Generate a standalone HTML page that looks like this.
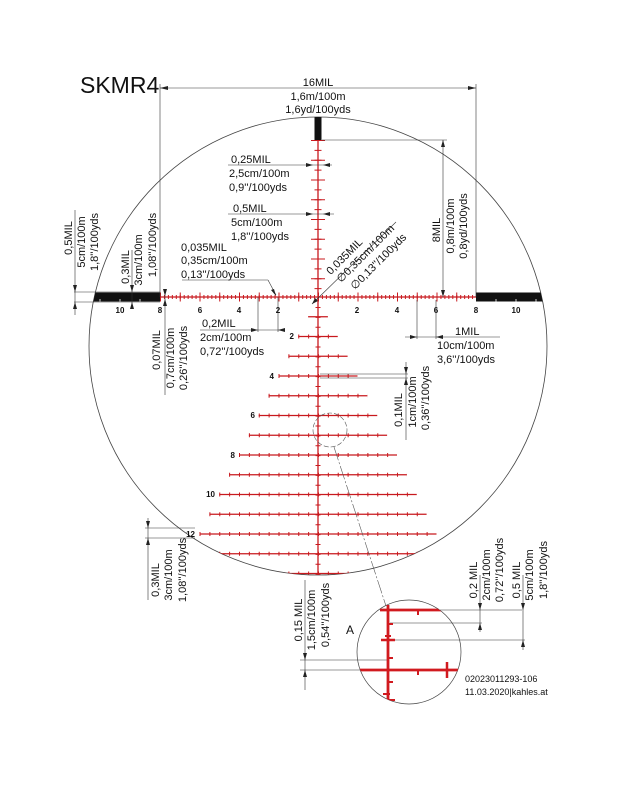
<!DOCTYPE html>
<html><head><meta charset="utf-8"><style>
html,body{margin:0;padding:0;background:#fff;}
svg{display:block;}
text{font-family:"Liberation Sans",sans-serif;fill:#111;font-size:11px;}
.n{font-size:8px;font-weight:bold;}
</style></head><body>
<svg width="643" height="794" viewBox="0 0 643 794" xmlns="http://www.w3.org/2000/svg">
<defs>
<clipPath id="cc"><circle cx="318" cy="346" r="229"/></clipPath>
<clipPath id="ca"><circle cx="409" cy="652" r="52"/></clipPath>
</defs>
<rect width="643" height="794" fill="#fff"/>
<circle cx="318" cy="346" r="229" fill="none" stroke="#444" stroke-width="0.8"/>

<g clip-path="url(#cc)">
<rect x="80" y="292.5" width="80" height="9" fill="#111"/>
<rect x="476" y="292.5" width="90" height="9" fill="#111"/>
<rect x="314.5" y="110" width="7" height="30" fill="#111"/>
<line x1="160" y1="297" x2="476" y2="297" stroke="#c8191e" stroke-width="1.3"/>
<line x1="160" y1="297" x2="476" y2="297" stroke="#c8191e" stroke-width="4" stroke-dasharray="1 2.95"/>
<line x1="160" y1="297" x2="476" y2="297" stroke="#c8191e" stroke-width="9" stroke-dasharray="1 18.75"/>
<line x1="318" y1="140" x2="318" y2="580" stroke="#c8191e" stroke-width="1.3"/>
<line x1="318" y1="140" x2="318" y2="297" stroke="#c8191e" stroke-width="7" stroke-dasharray="1 8.875"/>
<line x1="318" y1="140" x2="318" y2="297" stroke="#c8191e" stroke-width="14" stroke-dasharray="1 18.75"/>
<line x1="318" y1="307" x2="318" y2="580" stroke="#c8191e" stroke-width="5" stroke-dasharray="1 8.875"/>
<g stroke="#c8191e">
<line x1="308.1" y1="316.75" x2="327.9" y2="316.75" stroke-width="1.3"/>
<line x1="298.25" y1="336.5" x2="337.75" y2="336.5" stroke-width="1.3"/>
<line x1="288.4" y1="356.25" x2="347.6" y2="356.25" stroke-width="1.3"/>
<line x1="278.5" y1="376" x2="357.5" y2="376" stroke-width="1.3"/>
<line x1="268.6" y1="395.75" x2="367.4" y2="395.75" stroke-width="1.3"/>
<line x1="258.75" y1="415.5" x2="377.25" y2="415.5" stroke-width="1.3"/>
<line x1="248.9" y1="435.25" x2="387.1" y2="435.25" stroke-width="1.3"/>
<line x1="239" y1="455" x2="397" y2="455" stroke-width="1.3"/>
<line x1="229.1" y1="474.75" x2="406.9" y2="474.75" stroke-width="1.3"/>
<line x1="219.25" y1="494.5" x2="416.75" y2="494.5" stroke-width="1.3"/>
<line x1="209.4" y1="514.25" x2="426.6" y2="514.25" stroke-width="1.3"/>
<line x1="199.5" y1="534" x2="436.5" y2="534" stroke-width="1.3"/>
<line x1="189.6" y1="553.75" x2="446.4" y2="553.75" stroke-width="1.3"/>
<line x1="179.75" y1="573.5" x2="456.25" y2="573.5" stroke-width="1.3"/>
</g>
<g stroke="#c8191e" stroke-width="4" stroke-dasharray="1 8.875">
<line x1="298.25" y1="336.5" x2="337.75" y2="336.5"/>
<line x1="288.4" y1="356.25" x2="347.6" y2="356.25"/>
<line x1="278.5" y1="376" x2="357.5" y2="376"/>
<line x1="268.6" y1="395.75" x2="367.4" y2="395.75"/>
<line x1="258.75" y1="415.5" x2="377.25" y2="415.5"/>
<line x1="248.9" y1="435.25" x2="387.1" y2="435.25"/>
<line x1="239" y1="455" x2="397" y2="455"/>
<line x1="229.1" y1="474.75" x2="406.9" y2="474.75"/>
<line x1="219.25" y1="494.5" x2="416.75" y2="494.5"/>
<line x1="209.4" y1="514.25" x2="426.6" y2="514.25"/>
<line x1="199.5" y1="534" x2="436.5" y2="534"/>
<line x1="189.6" y1="553.75" x2="446.4" y2="553.75"/>
<line x1="179.75" y1="573.5" x2="456.25" y2="573.5"/>
</g>
</g>
<g stroke="#fff" stroke-width="0.8">
<line x1="100" y1="299" x2="100" y2="302"/><line x1="120" y1="299" x2="120" y2="302"/><line x1="140" y1="299" x2="140" y2="302"/>
<line x1="496" y1="299" x2="496" y2="302"/><line x1="516" y1="299" x2="516" y2="302"/><line x1="536" y1="299" x2="536" y2="302"/>
</g>

<text class="n" x="294" y="339" text-anchor="end">2</text>
<text class="n" x="274" y="379" text-anchor="end">4</text>
<text class="n" x="255" y="418" text-anchor="end">6</text>
<text class="n" x="235" y="458" text-anchor="end">8</text>
<text class="n" x="215" y="497" text-anchor="end">10</text>
<text class="n" x="195" y="537" text-anchor="end">12</text>
<text class="n" x="120" y="313" text-anchor="middle">10</text>
<text class="n" x="160" y="313" text-anchor="middle">8</text>
<text class="n" x="200" y="313" text-anchor="middle">6</text>
<text class="n" x="239" y="313" text-anchor="middle">4</text>
<text class="n" x="278" y="313" text-anchor="middle">2</text>
<text class="n" x="357" y="313" text-anchor="middle">2</text>
<text class="n" x="397" y="313" text-anchor="middle">4</text>
<text class="n" x="436" y="313" text-anchor="middle">6</text>
<text class="n" x="476" y="313" text-anchor="middle">8</text>
<text class="n" x="516" y="313" text-anchor="middle">10</text>

<g stroke="#333" stroke-width="0.6" fill="none">
<line x1="160" y1="88" x2="476" y2="88"/>
<line x1="160" y1="84" x2="160" y2="297"/>
<line x1="476" y1="84" x2="476" y2="297"/>
<line x1="322" y1="140" x2="447" y2="140"/>
<line x1="443" y1="140" x2="443" y2="297"/>
<line x1="228" y1="165" x2="332" y2="165"/>
<line x1="228" y1="214" x2="334" y2="214"/>
<line x1="182" y1="280" x2="268" y2="280"/><line x1="268" y1="280" x2="276" y2="295"/>
<line x1="312" y1="304" x2="396" y2="222"/>
<line x1="74" y1="292" x2="160" y2="292"/><line x1="74" y1="302" x2="160" y2="302"/>
<line x1="75" y1="210" x2="75" y2="315"/>
<line x1="132" y1="250" x2="132" y2="306"/>
<line x1="165" y1="290" x2="165" y2="395"/>
<line x1="200" y1="330" x2="282" y2="330"/>
<line x1="258" y1="297" x2="258" y2="332"/><line x1="278" y1="297" x2="278" y2="332"/>
<line x1="405" y1="337" x2="500" y2="337"/>
<line x1="417" y1="300" x2="417" y2="339"/><line x1="436" y1="300" x2="436" y2="339"/>
<line x1="320" y1="374" x2="408" y2="374"/><line x1="320" y1="378" x2="408" y2="378"/>
<line x1="406" y1="362" x2="406" y2="440"/>
<line x1="145" y1="528" x2="195" y2="528"/><line x1="145" y1="538" x2="195" y2="538"/>
<line x1="148" y1="518" x2="148" y2="600"/>
<line x1="300" y1="660" x2="388" y2="660"/><line x1="300" y1="670" x2="400" y2="670"/>
<line x1="305" y1="580" x2="305" y2="690"/>
<line x1="440" y1="610" x2="522" y2="610"/><line x1="390" y1="623" x2="482" y2="623"/><line x1="395" y1="640" x2="525" y2="640"/>
<line x1="480" y1="575" x2="480" y2="632"/><line x1="523" y1="575" x2="523" y2="650"/>
</g>
<g fill="#222">
<polygon points="160,88 168,86 168,90"/><polygon points="476,88 468,86 468,90"/>
<polygon points="443,140 441,147 445,147"/><polygon points="443,297 441,290 445,290"/>
<polygon points="313,165 306,163 306,167"/><polygon points="323,165 330,163 330,167"/>
<polygon points="313,214 306,212 306,216"/><polygon points="323,214 330,212 330,216"/>
<polygon points="276,296 271,290 274,289"/>
<polygon points="312,304 315,298 318,301"/>
<polygon points="75,292 73,285 77,285"/><polygon points="75,302 73,309 77,309"/>
<polygon points="132,292 130,285 134,285"/><polygon points="132,302 130,309 134,309"/>
<polygon points="165,296 163,289 167,289"/><polygon points="165,299 163,306 167,306"/>
<polygon points="258,330 251,328 251,332"/><polygon points="278,330 285,328 285,332"/>
<polygon points="417,337 410,335 410,339"/><polygon points="436,337 443,335 443,339"/>
<polygon points="406,374 404,367 408,367"/><polygon points="406,378 404,385 408,385"/>
<polygon points="148,528 146,521 150,521"/><polygon points="148,538 146,545 150,545"/>
<polygon points="305,660 303,653 307,653"/><polygon points="305,670 303,677 307,677"/>
<polygon points="480,610 478,603 482,603"/><polygon points="480,623 478,630 482,630"/>
<polygon points="523,610 521,603 525,603"/><polygon points="523,640 521,647 525,647"/>
</g>

<circle cx="330" cy="430" r="17" fill="none" stroke="#555" stroke-width="0.6" stroke-dasharray="5 2"/>
<line x1="334" y1="447" x2="386" y2="606" stroke="#555" stroke-width="0.6" stroke-dasharray="14 2 2 2"/>
<circle cx="409" cy="652" r="52" fill="none" stroke="#444" stroke-width="0.7"/>
<g clip-path="url(#ca)" stroke="#d11a1f">
<line x1="388" y1="605" x2="388" y2="710" stroke-width="2.8"/>
<line x1="380" y1="610" x2="450" y2="610" stroke-width="2.8"/>
<line x1="355" y1="670" x2="465" y2="670" stroke-width="2.8"/>
<line x1="381" y1="640" x2="395" y2="640" stroke-width="2.5"/>
<line x1="385" y1="636" x2="391" y2="636" stroke-width="2"/>
<line x1="388" y1="624" x2="393" y2="624" stroke-width="2"/>
<line x1="388" y1="658" x2="393" y2="658" stroke-width="2"/>
<line x1="388" y1="682" x2="393" y2="682" stroke-width="2"/>
<line x1="383" y1="694" x2="390" y2="694" stroke-width="2"/>
<line x1="385" y1="700" x2="395" y2="700" stroke-width="2"/>
<line x1="418" y1="610" x2="418" y2="615" stroke-width="2"/>
<line x1="418" y1="670" x2="418" y2="675" stroke-width="2"/>
<line x1="447" y1="662" x2="447" y2="678" stroke-width="2.5"/>
</g>

<text x="80" y="93" style="font-size:23px">SKMR4</text>
<text x="318" y="86" text-anchor="middle">16MIL</text>
<text x="318" y="100" text-anchor="middle">1,6m/100m</text>
<text x="318" y="113" text-anchor="middle">1,6yd/100yds</text>
<text x="231" y="163">0,25MIL</text>
<text x="229" y="177">2,5cm/100m</text>
<text x="229" y="191">0,9''/100yds</text>
<text x="233" y="212">0,5MIL</text>
<text x="231" y="226">5cm/100m</text>
<text x="231" y="240">1,8''/100yds</text>
<text x="181" y="251">0,035MIL</text>
<text x="181" y="264">0,35cm/100m</text>
<text x="181" y="278">0,13''/100yds</text>
<text x="202" y="327">0,2MIL</text>
<text x="200" y="341">2cm/100m</text>
<text x="200" y="355">0,72''/100yds</text>
<text x="455" y="335">1MIL</text>
<text x="437" y="349">10cm/100m</text>
<text x="437" y="363">3,6''/100yds</text>
<text x="465" y="682" style="font-size:9px">02023011293-106</text>
<text x="465" y="695" style="font-size:9px">11.03.2020|kahles.at</text>
<text x="346" y="634" style="font-size:12px">A</text>

<g text-anchor="middle">
<text transform="translate(72,238) rotate(-90)">0,5MIL</text>
<text transform="translate(85,242) rotate(-90)">5cm/100m</text>
<text transform="translate(98,242) rotate(-90)">1,8''/100yds</text>
<text transform="translate(129,267) rotate(-90)">0,3MIL</text>
<text transform="translate(142,260) rotate(-90)">3cm/100m</text>
<text transform="translate(156,245) rotate(-90)">1,08''/100yds</text>
<text transform="translate(440,230) rotate(-90)">8MIL</text>
<text transform="translate(454,226) rotate(-90)">0,8m/100m</text>
<text transform="translate(467,226) rotate(-90)">0,8yd/100yds</text>
<text transform="translate(160,350) rotate(-90)">0,07MIL</text>
<text transform="translate(174,358) rotate(-90)">0,7cm/100m</text>
<text transform="translate(187,358) rotate(-90)">0,26''/100yds</text>
<text transform="translate(402,410) rotate(-90)">0,1MIL</text>
<text transform="translate(416,402) rotate(-90)">1cm/100m</text>
<text transform="translate(429,398) rotate(-90)">0,36''/100yds</text>
<text transform="translate(159,580) rotate(-90)">0,3MIL</text>
<text transform="translate(172,575) rotate(-90)">3cm/100m</text>
<text transform="translate(186,570) rotate(-90)">1,08''/100yds</text>
<text transform="translate(302,620) rotate(-90)">0,15 MIL</text>
<text transform="translate(315,620) rotate(-90)">1,5cm/100m</text>
<text transform="translate(329,615) rotate(-90)">0,54''/100yds</text>
<text transform="translate(477,580) rotate(-90)">0,2 MIL</text>
<text transform="translate(490,575) rotate(-90)">2cm/100m</text>
<text transform="translate(503,570) rotate(-90)">0,72''/100yds</text>
<text transform="translate(520,580) rotate(-90)">0,5 MIL</text>
<text transform="translate(533,575) rotate(-90)">5cm/100m</text>
<text transform="translate(547,570) rotate(-90)">1,8''/100yds</text>
<text transform="translate(347,259) rotate(-45)">0,035MIL</text>
<text transform="translate(368,256) rotate(-45)">∅0,35cm/100m</text>
<text transform="translate(381,264) rotate(-45)">∅0,13''/100yds</text>
</g>
</svg>
</body></html>
